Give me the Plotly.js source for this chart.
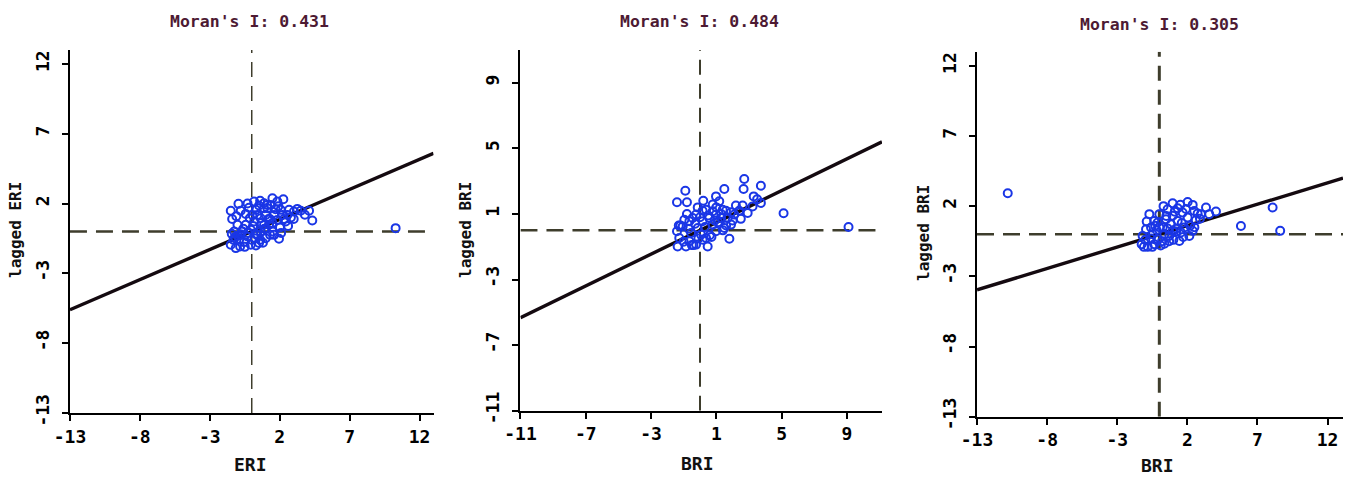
<!DOCTYPE html>
<html>
<head>
<meta charset="utf-8">
<script src="https://cdn.plot.ly/plotly-3.0.1.min.js"></script>
<style>html,body{margin:0;padding:0;background:#fff;}#chart{width:1348px;height:478px;}</style>
</head>
<body>
<div id="chart"></div>
<script>
// ---- data ----
const panelTitles = ["Moran's I: 0.431", "Moran's I: 0.484", "Moran's I: 0.305"];
const slopes = [0.431, 0.484, 0.305];
const yLabels = ["lagged ERI", "lagged BRI", "lagged BRI"];
const xLabels = ["ERI", "BRI", "BRI"];

const eri1 = [-1.5,-0.95,-0.79,-0.43,-1.02,-1.43,-1.5,-1.14,-0.83,-0.55,-0.31,-0.07,0.17,0.4,0.52,0.88,1.12,1.48,1.83,2.26,2.07,2.55,3.02,3.5,4.1,4.33,2.43,2.02,1.95,1.31,1.24,0.64,0.52,0.21,-0.43,-0.67,0.64,1.0,1.6,1.83,1.48,0.88,0.29,0.05,-0.14,-1.26,-0.9,-0.07,0.4,1.0,1.6,2.19,2.67,3.26,1.36,0.88,0.17,-1.3,-0.6,0.1,0.7,1.2,1.7,2.3,-1.0,-0.3,0.3,0.9,1.5,2.8,3.8,-1.2,-0.5,0.6,1.1,-1.4,-0.2,0.6,1.0,1.9,2.6,-0.8,0.0,0.8,1.3,2.1,-1.1,3.0,0.3,-0.3,10.29];
const lag1 = [1.48,1.98,1.48,1.26,0.48,-0.17,-0.95,-1.19,-1.07,-0.76,-0.36,0.12,0.71,1.19,1.86,2.02,1.67,2.38,2.14,2.31,1.55,1.19,1.43,1.48,1.48,0.79,0.71,0.29,-0.52,-0.24,0.48,0,-0.83,-0.48,0.48,0,0.95,1.19,1.19,0.83,0.6,0.48,1.55,1.19,0.95,0,-0.6,-0.95,-0.24,-0.48,-0.24,1.19,1.55,1.62,1.9,1.67,2.14,-0.6,0.2,0.4,0.6,0.9,1.6,0.9,-0.3,-0.1,-0.2,0.2,0.0,1.0,1.2,-0.4,-1.1,-0.6,1.9,0.9,1.7,2.2,0.2,1.8,0.4,-0.2,-0.6,-0.8,0.9,-0.1,1.1,0.9,-1.0,2.0,0.24];

const bri2 = [-0.9,-1.41,-0.8,2.71,3.73,2.67,1.49,3.29,5.12,9.1,0.98,1.18,0.78,0.37,-0.14,-0.24,-0.65,-1.06,-1.41,-1.27,-1.37,-0.86,-0.24,0.47,0.37,0.98,1.49,1.8,1.9,1.69,2.1,2.2,2.61,2.92,3.22,3.73,1.39,0.98,0.57,0.16,-0.14,-0.55,0.06,0.78,1.29,1.59,-0.96,-0.45,0.16,0.78,0.16,-0.65,-1.2,-0.7,-0.3,0.3,0.6,1.1,1.6,2.4,-1.0,-0.1,0.5,1.3,2.0,3.5,-0.5,0.9,-1.3,0.2,1.0,1.9,2.5,-0.4,0.7,1.4,-0.8,0.0];
const lag2 = [2.42,1.71,1.71,3.13,2.72,2.52,2.52,2.07,1.04,0.2,2.07,1.77,1.57,1.26,1.4,0.96,0.55,0.24,-0.06,-0.47,-0.98,-0.98,-0.87,-0.98,-0.47,-0.06,0.14,-0.51,0.35,0.75,0.96,1.52,1.52,1.06,1.46,1.67,1.26,0.96,0.75,0.55,0.14,-0.16,-0.26,0.35,0.75,1.2,0.65,0.75,1.2,1.16,-0.57,-0.67,0.3,0.1,0.4,0.2,-0.3,0.5,0.3,1.2,-0.7,-0.5,0.9,1.0,0.6,1.9,-0.9,0.6,0.3,1.8,1.4,1.1,0.7,-0.9,-0.4,0.0,1.0,0.8];

const bri3 = [-10.81,5.82,8.08,8.62,-0.71,-0.95,-0.36,0,0.59,0.95,1.31,2.02,2.38,1.66,2.02,2.73,3.33,4.04,3.56,2.38,2.14,1.43,0.71,0.36,-0.36,-0.83,-1.26,-1.19,-0.48,0.24,0.83,1.31,1.78,1.54,0.95,0.36,-0.12,0.48,0.95,-0.12,-0.59,2.49,2.97,-1.0,-0.6,-0.2,0.2,0.6,1.1,1.6,2.2,-1.1,-0.3,0.5,1.2,1.9,2.6,0.1,1.0,-0.9,0.3,1.5,2.9,0.7,-0.5,1.7,2.5,0.0,1.2];
const lag3 = [2.92,0.59,1.9,0.24,1.43,0.36,0.95,1.43,1.78,2.21,1.85,2.3,2.09,1.54,1.19,1.47,1.9,1.62,1.43,0.24,-0.12,-0.48,-0.12,-0.67,-0.71,-0.9,-0.71,-0.12,0,0.48,0.71,0.95,0.48,0.12,0.24,0,-0.36,1.07,1.31,0.83,0.48,1.66,1.43,-0.4,-0.3,0.3,-0.5,0.4,1.6,0.8,0.6,-0.9,0.6,1.3,0.2,1.8,1.0,-0.8,-0.4,0.9,2.0,2.1,1.1,-0.5,-0.9,-0.2,0.5,0.5,0.4];

const xTicks1 = [-13,-8,-3,2,7,12];
const xTicks2 = [-11,-7,-3,1,5,9];
const xTicks3 = [-13,-8,-3,2,7,12];

// ---- layout parameters ----
const panels = [
  {x: eri1, y: lag1, ticks: xTicks1, xr: [-13, 13], yr: [-13, 13],
   xd: [0.0519, 0.3216], yd: [0.1360, 0.8954], vw: 1.5, hw: 2.5},
  {x: bri2, y: lag2, ticks: xTicks2, xr: [-11, 11.15], yr: [-11, 11],
   xd: [0.3861, 0.6543], yd: [0.1408, 0.8954], vw: 2, hw: 2.5},
  {x: bri3, y: lag3, ticks: xTicks3, xr: [-13, 13.1], yr: [-13, 13],
   xd: [0.7248, 0.9963], yd: [0.1282, 0.8918], vw: 3, hw: 2.5}
];
const titlePos = [[249, 22], [699, 22], [1159, 24]];
const xtPos = [[250, 464], [698, 463], [1157, 465]];
const ytPos = [[15, 230], [465, 230], [923, 233]];
const W = 1348, H = 478;

const traces = [];
const shapes = [];
const annotations = [];
const layout = {
  width: W, height: H,
  margin: {l: 0, r: 0, t: 0, b: 0},
  paper_bgcolor: '#ffffff', plot_bgcolor: '#ffffff',
  showlegend: false,
  font: {family: 'DejaVu Sans Mono', color: '#000'}
};

const dashColor = '#3e3d2c';
panels.forEach((p, i) => {
  const n = i === 0 ? '' : String(i + 1);
  const xa = 'x' + n, ya = 'y' + n;
  traces.push({
    type: 'scatter', mode: 'lines', xaxis: xa, yaxis: ya,
    x: [p.xr[0], p.xr[1]], y: [slopes[i] * p.xr[0], slopes[i] * p.xr[1]],
    line: {color: '#140a10', width: 3.4}, hoverinfo: 'skip'
  });
  traces.push({
    type: 'scatter', mode: 'markers', xaxis: xa, yaxis: ya,
    x: p.x, y: p.y,
    marker: {symbol: 'circle-open', size: 8, color: '#1a36e6', line: {width: 2, color: '#1a36e6'}}
  });
  shapes.push({type: 'line', xref: xa, yref: ya, x0: 0, x1: 0, y0: p.yr[0], y1: p.yr[1],
    line: {color: dashColor, width: p.vw, dash: '15px,9px'}, layer: 'below'});
  shapes.push({type: 'line', xref: xa, yref: ya, x0: p.xr[0], x1: p.xr[1], y0: 0, y1: 0,
    line: {color: dashColor, width: p.hw, dash: '17px,9px'}, layer: 'below'});

  const axCommon = {
    showgrid: false, zeroline: false, showline: true, linecolor: '#000', linewidth: 2,
    ticks: 'outside', ticklen: 6, tickwidth: 2, tickcolor: '#000',
    tickmode: 'array', tickvals: p.ticks, ticktext: p.ticks.map(v => v < 0 ? '-' + Math.abs(v) : String(v)),
    tickfont: {family: 'DejaVu Sans Mono', size: 18, color: '#000', weight: 'bold'},
    fixedrange: true, mirror: false
  };
  layout['xaxis' + n] = Object.assign({}, axCommon, {
    domain: p.xd, range: p.xr, anchor: ya
  });
  layout['yaxis' + n] = Object.assign({}, axCommon, {
    domain: p.yd, range: p.yr, anchor: xa, tickangle: -90, ticklabelstandoff: 6
  });

  annotations.push({xref: 'paper', yref: 'paper', x: titlePos[i][0] / W, y: 1 - titlePos[i][1] / H,
    xanchor: 'center', yanchor: 'middle', showarrow: false, text: panelTitles[i],
    font: {family: 'DejaVu Sans Mono', size: 16.5, color: '#4d1a33', weight: 'bold'}});
  annotations.push({xref: 'paper', yref: 'paper', x: xtPos[i][0] / W, y: 1 - xtPos[i][1] / H,
    xanchor: 'center', yanchor: 'middle', showarrow: false, text: xLabels[i],
    font: {family: 'DejaVu Sans Mono', size: 18, color: '#111', weight: 'bold'}});
  annotations.push({xref: 'paper', yref: 'paper', x: ytPos[i][0] / W, y: 1 - ytPos[i][1] / H,
    xanchor: 'center', yanchor: 'middle', showarrow: false, text: yLabels[i], textangle: -90,
    font: {family: 'DejaVu Sans Mono', size: 16, color: '#111', weight: 'bold'}});
});
layout.shapes = shapes;
layout.annotations = annotations;

Plotly.newPlot('chart', traces, layout, {staticPlot: true, displayModeBar: false});
</script>
</body>
</html>
